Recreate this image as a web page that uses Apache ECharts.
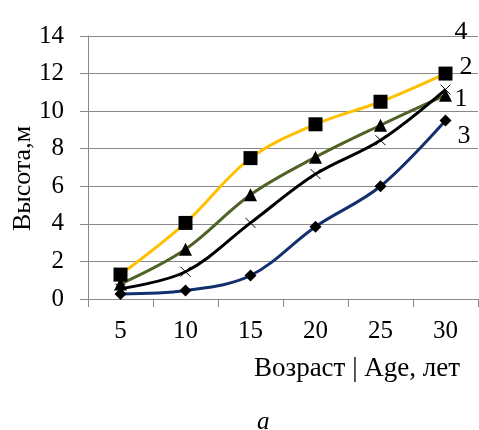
<!DOCTYPE html>
<html><head><meta charset="utf-8">
<script src="https://cdn.jsdelivr.net/npm/echarts@6/dist/echarts.min.js"></script>
<style>html,body{margin:0;padding:0;background:#fff}#c{width:479px;height:430px}</style>
</head><body><div id="c"></div>
<script>
const categories = ['5','10','15','20','25','30'];
const s4 = [1.3, 4.05, 7.5, 9.3, 10.5, 12.0];
const s2 = [0.8, 2.65, 5.55, 7.55, 9.25, 10.85];
const s1 = [0.55, 1.45, 4.05, 6.65, 8.45, 11.15];
const s3 = [0.27, 0.45, 1.25, 3.85, 6.0, 9.5];
const yTicks = [0, 2, 4, 6, 8, 10, 12, 14];
const FONT = '"Liberation Serif", "Times New Roman", serif';

const chart = echarts.init(document.getElementById('c'), null, {renderer:'canvas'});
function mk(name, data, color, symbol, size, offset, extra) {
  return Object.assign({
    name: name, type: 'line', data: data, smooth: 0.35,
    symbol: symbol, symbolSize: size,
    lineStyle: {color: color, width: 3},
    itemStyle: {color: '#000'},
    endLabel: {show: true, formatter: name, fontFamily: FONT, fontSize: 26, color: '#000', offset: offset},
    z: 3
  }, extra || {});
}
chart.setOption({
  animation: false,
  grid: {left: 88, right: 1, top: 36, bottom: 131, containLabel: false, outerBoundsMode: 'none'},
  title: {text: 'а', left: 252, top: 405, textStyle: {fontFamily: FONT, fontStyle: 'italic', fontWeight: 'normal', fontSize: 25, color: '#000'}},
  xAxis: {
    type: 'category', data: categories, boundaryGap: true,
    axisLine: {lineStyle: {color: '#888', width: 1}},
    axisTick: {show: true, length: 8, lineStyle: {color: '#888'}},
    axisLabel: {fontFamily: FONT, fontSize: 25, color: '#000', margin: 20},
    name: 'Возраст | Age, лет', nameLocation: 'middle', nameGap: 56, nameMoveOverlap: false,
    nameTextStyle: {fontFamily: FONT, fontSize: 27, color: '#000', padding: [0, 0, 0, 148]}
  },
  yAxis: {
    type: 'value', min: 0, max: 14, interval: 2,
    axisLine: {show: true, lineStyle: {color: '#888', width: 1}},
    axisTick: {show: true, length: 8, lineStyle: {color: '#888'}},
    axisLabel: {fontFamily: FONT, fontSize: 25, color: '#000', margin: 24,
      formatter: v => yTicks.includes(v) ? String(v) : ''},
    splitLine: {show: true, lineStyle: {color: '#888', width: 1}},
    name: 'Высота,м', nameLocation: 'middle', nameRotate: 90, nameGap: 52, nameMoveOverlap: false,
    nameTextStyle: {fontFamily: FONT, fontSize: 26, color: '#000', padding: [0, 22, 0, 0]}
  },
  series: [
    mk('4', s4, '#FFC000', 'rect', 14, [1, -41]),
    mk('2', s2, '#4F6228', 'triangle', 13, [6, -28]),
    mk('1', s1, '#000000', 'path://M0,0L10,10M10,0L0,10', 10, [1, 10],
       {itemStyle: {color: 'none', borderColor: '#000', borderWidth: 1}}),
    mk('3', s3, '#12306E', 'diamond', 12, [4, 16])
  ]
});
</script></body></html>
